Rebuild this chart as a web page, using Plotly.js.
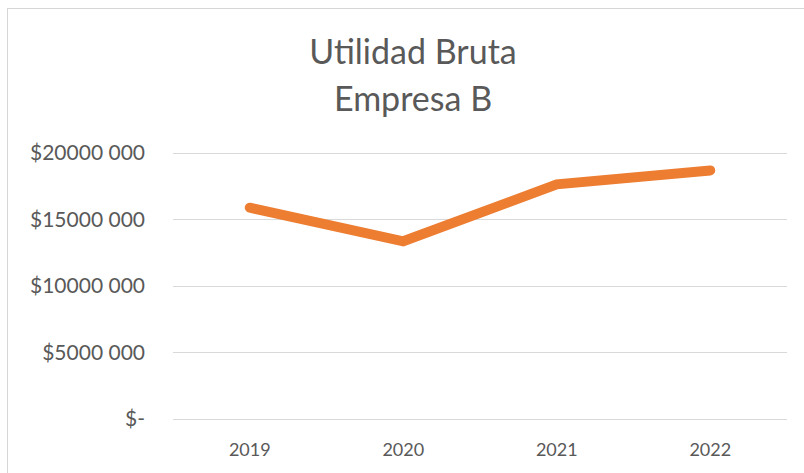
<!DOCTYPE html>
<html>
<head>
<meta charset="utf-8">
<script src="https://cdn.plot.ly/plotly-3.0.1.min.js"></script>
<style>
  html, body { margin: 0; padding: 0; background: #fff; overflow: hidden; }
  #wrap { position: relative; width: 804px; height: 473px; }
  #chart { position: absolute; left: 0; top: 0; width: 804px; height: 473px; }
  #frame { position: absolute; left: 7px; top: 8px; width: 900px; height: 600px;
           border: 1px solid #D6D6D6; pointer-events: none; box-sizing: border-box; }
  .js-line { stroke-linecap: round; }
</style>
</head>
<body>
<div id="wrap">
  <div id="chart"></div>
  <div id="frame"></div>
</div>
<script>
const years = ["2019", "2020", "2021", "2022"];
const utilidadBruta = [15890000, 13360000, 17640000, 18690000];
const tickValues = [0, 5000000, 10000000, 15000000, 20000000];
const tickLabels = ["$-", "$5000 000", "$10000 000", "$15000 000", "$20000 000"];
const titleLine1 = "Utilidad Bruta";
const titleLine2 = "Empresa B";

const FONT = "Lato, 'Open Sans', sans-serif";
const GREY = "#595959";

const trace = {
  x: years,
  y: utilidadBruta,
  type: "scatter",
  mode: "lines",
  line: { color: "#ED7D31", width: 10, shape: "linear" },
  hoverinfo: "skip",
  cliponaxis: false
};

const layout = {
  width: 804,
  height: 473,
  margin: { l: 173, r: 17, t: 151, b: 54, pad: 0 },
  paper_bgcolor: "rgba(0,0,0,0)",
  plot_bgcolor: "rgba(0,0,0,0)",
  showlegend: false,
  font: { family: FONT, color: GREY },
  title: {
    text: titleLine1,
    font: { family: FONT, size: 34, color: GREY },
    x: 413 / 804, xanchor: "center", xref: "container",
    y: 1 - 52.5 / 473, yanchor: "middle", yref: "container"
  },
  annotations: [{
    text: titleLine2,
    xref: "paper", yref: "paper",
    x: (413 - 173) / 614, xanchor: "center",
    y: (419 - 97.5) / 268, yanchor: "middle",
    showarrow: false,
    font: { family: FONT, size: 34, color: GREY }
  }],
  xaxis: {
    type: "category",
    range: [-0.5, 3.5],
    showgrid: false,
    zeroline: false,
    showline: false,
    ticks: "",
    ticklabelstandoff: 18,
    tickfont: { family: FONT, size: 18, color: GREY },
    fixedrange: true
  },
  yaxis: {
    range: [0, 20000000 * 268 / 266],
    tickmode: "array",
    tickvals: tickValues,
    ticktext: tickLabels,
    showgrid: true,
    gridcolor: "#D9D9D9",
    gridwidth: 1,
    zeroline: true,
    zerolinecolor: "#D9D9D9",
    zerolinewidth: 1,
    showline: false,
    ticks: "",
    ticklabelstandoff: 27,
    tickfont: { family: FONT, size: 21, color: GREY },
    fixedrange: true
  }
};

Plotly.newPlot("chart", [trace], layout, { displayModeBar: false, staticPlot: true });
</script>
</body>
</html>
